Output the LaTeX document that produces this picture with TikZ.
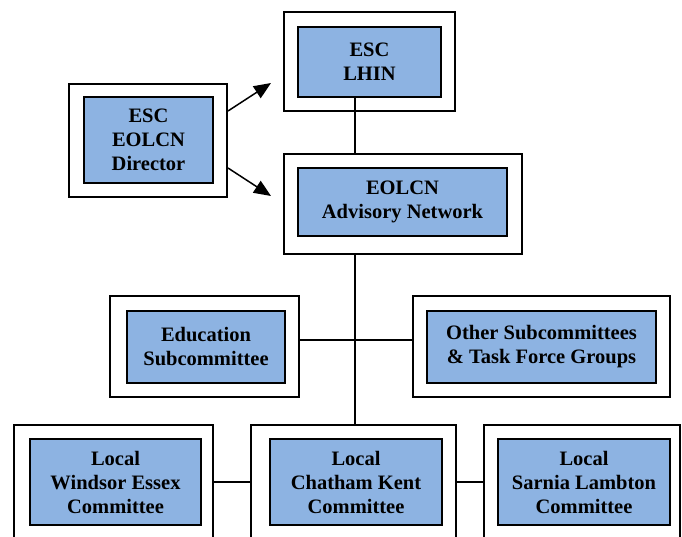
\documentclass[tikz,border=0pt]{standalone}
\usepackage{fontspec}
\setmainfont{Liberation Serif}
\usetikzlibrary{arrows.meta}
\definecolor{boxblue}{HTML}{8DB3E2}
\begin{document}
\begin{tikzpicture}[x=1pt,y=-1pt,
  outerbox/.style={draw=black, line width=1.7pt, fill=white, inner sep=0pt, minimum width=#1},
  innerbox/.style={draw=black, line width=1.7pt, fill=boxblue, inner sep=0pt, align=center,
     font=\fontsize{20.5}{24}\selectfont\bfseries, minimum width=#1},
  conn/.style={draw=black, line width=1.5pt},
  arr/.style={draw=black, line width=1.5pt, -{Triangle[length=17pt,width=14pt]}}]
\useasboundingbox (0,0) rectangle (682,536);
\clip (0,0) rectangle (682,536);
% outer boxes
\node[outerbox=171pt, minimum height=99pt] (lhinOut) at (369.5,61.5) {};
\node[outerbox=238pt, minimum height=100pt] (eolOut) at (403,204) {};
\node[outerbox=158pt, minimum height=113pt] (dirOut) at (148,140.5) {};
\node[outerbox=189pt, minimum height=101pt] (eduOut) at (204.5,346.5) {};
\node[outerbox=257pt, minimum height=101pt] (othOut) at (541.5,346.5) {};
\node[outerbox=199pt, minimum height=114pt] (winOut) at (113.5,482) {};
\node[outerbox=205pt, minimum height=114pt] (chaOut) at (353.5,482) {};
\node[outerbox=196pt, minimum height=114pt] (sarOut) at (582,482) {};
% inner boxes
\node[innerbox=143pt, minimum height=70pt] (lhin) at (369.5,62) {ESC\\LHIN};
\node[innerbox=209pt, minimum height=68pt] (eol) at (402.5,202) {EOLCN\\Advisory Network};
\node[innerbox=129pt, minimum height=86pt] (dir) at (148.5,140) {ESC\\EOLCN\\Director};
\node[innerbox=158pt, minimum height=72pt] (edu) at (206,347) {Education\\Subcommittee};
\node[innerbox=229pt, minimum height=72pt] (oth) at (541.5,347) {Other Subcommittees\\\& Task Force Groups};
\node[innerbox=171pt, minimum height=86pt] (win) at (115.5,482) {Local\\Windsor Essex\\Committee};
\node[innerbox=172pt, minimum height=86pt] (cha) at (356,482) {Local\\Chatham Kent\\Committee};
\node[innerbox=172pt, minimum height=86pt] (sar) at (584,482) {Local\\Sarnia Lambton\\Committee};
% helper coordinates
\coordinate (spine) at (355,0);
\coordinate (hline) at (0,340);
\coordinate (a1s) at (228,111);
\coordinate (a1e) at (271,83);
\coordinate (a2s) at (228,168);
\coordinate (a2e) at (271,196);
% connectors
\draw[conn] (spine |- lhin.south) -- (spine |- eolOut.north);
\draw[conn] (spine |- eolOut.south) -- (spine |- chaOut.north);
\draw[conn] (eduOut.east |- hline) -- (othOut.west |- hline);
\draw[conn] (winOut.east) -- (chaOut.west);
\draw[conn] (chaOut.east) -- (sarOut.west);
\draw[arr] (a1s) -- (a1e);
\draw[arr] (a2s) -- (a2e);
\end{tikzpicture}
\end{document}
